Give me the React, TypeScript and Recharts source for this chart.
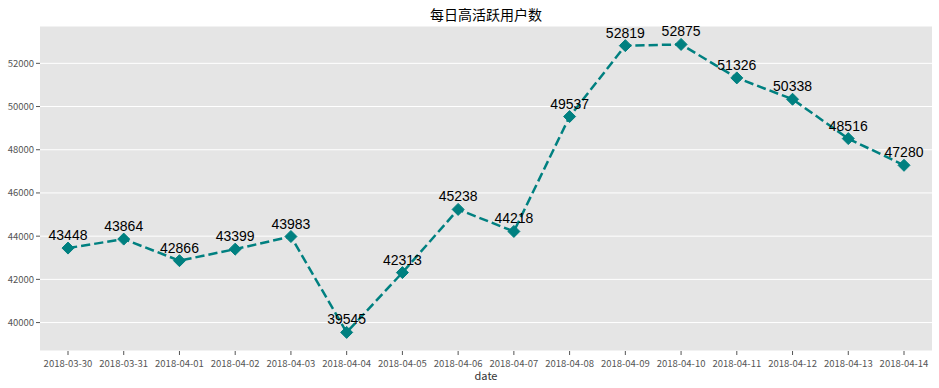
import React from "react";
import { CartesianGrid, LabelList, Line, LineChart, XAxis, YAxis } from "recharts";

const dates = [
  "2018-03-30", "2018-03-31", "2018-04-01", "2018-04-02", "2018-04-03", "2018-04-04",
  "2018-04-05", "2018-04-06", "2018-04-07", "2018-04-08", "2018-04-09", "2018-04-10",
  "2018-04-11", "2018-04-12", "2018-04-13", "2018-04-14",
];
const activeUsers = [
  43448, 43864, 42866, 43399, 43983, 39545, 42313, 45238,
  44218, 49537, 52819, 52875, 51326, 50338, 48516, 47280,
];
const yTicks = [40000, 42000, 44000, 46000, 48000, 50000, 52000];

const data = dates.map((date, i) => ({ date, users: activeUsers[i] }));

const TEAL = "#008080";
const tickFont = "'Noto Sans CJK SC', sans-serif";

function Diamond(props: any) {
  const { cx, cy } = props;
  if (cx == null || cy == null) return null;
  const r = 6;
  return (
    <path
      d={`M${cx},${cy - r}L${cx + r},${cy}L${cx},${cy + r}L${cx - r},${cy}Z`}
      fill={TEAL}
      stroke={TEAL}
    />
  );
}

export default function App() {
  return (
    <div style={{ position: "relative", width: 939, height: 388, background: "#fff" }}>
      <style>{`body{margin:0}`}</style>
      <div
        style={{
          position: "absolute",
          top: 5,
          left: 40,
          width: 892,
          textAlign: "center",
          fontFamily: "'Noto Sans CJK SC', sans-serif",
          fontSize: 14,
          color: "#000",
          lineHeight: "18px",
        }}
      >
        每日高活跃用户数
      </div>
      <LineChart width={939} height={388} data={data} margin={{ top: 26, right: 7, left: 0, bottom: 0 }}>
        <CartesianGrid fill="#E5E5E5" stroke="#ffffff" strokeWidth={1} vertical={false} />
        <XAxis
          dataKey="date"
          padding={{ left: 28, right: 28 }}
          height={37}
          axisLine={false}
          tickLine={{ stroke: "#555" }}
          tickSize={4}
          tick={{ fontSize: 9.5, fill: "#555", fontFamily: tickFont, dy: 3 }}
          interval={0}
          label={{ value: "date", position: "insideBottom", offset: 8, fontSize: 11, fill: "#333", fontFamily: tickFont }}
        />
        <YAxis
          width={40}
          domain={[38684, 53728]}
          ticks={yTicks}
          allowDataOverflow
          axisLine={false}
          tickLine={{ stroke: "#555" }}
          tickSize={4}
          tick={{ fontSize: 9.5, fill: "#555", fontFamily: tickFont }}
        />
        <Line
          type="linear"
          dataKey="users"
          stroke={TEAL}
          strokeWidth={2.5}
          strokeDasharray="9.25 4"
          dot={<Diamond />}
          activeDot={false}
          isAnimationActive={false}
        >
          <LabelList
            dataKey="users"
            position="top"
            offset={8}
            fill="#000"
            fontSize={14}
            fontFamily="'Liberation Sans', Arial, sans-serif"
          />
        </Line>
      </LineChart>
    </div>
  );
}
